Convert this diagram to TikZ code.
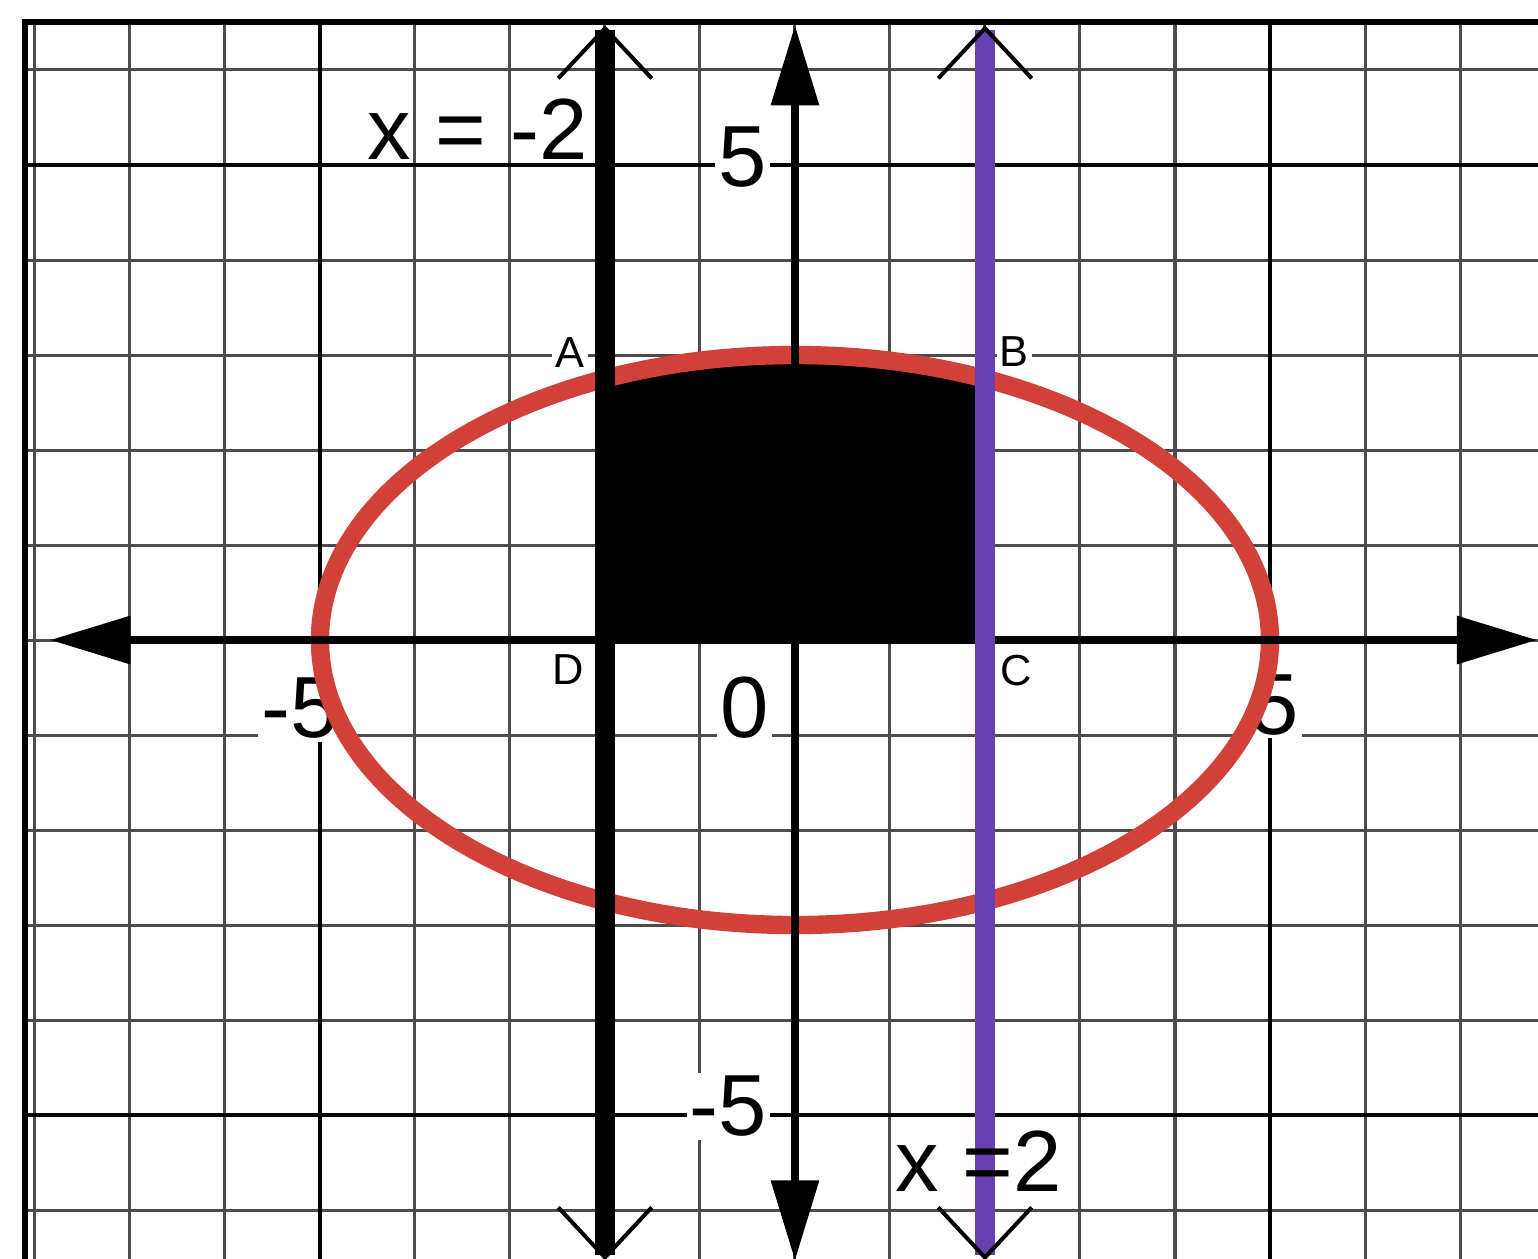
\documentclass[tikz,border=0pt]{standalone}
\usepackage{fontspec}
\setmainfont{Liberation Sans}
\usetikzlibrary{positioning,arrows.meta}

\definecolor{ellred}{RGB}{210,64,58}
\definecolor{linepurple}{RGB}{104,64,178}

\begin{document}
\begin{tikzpicture}[
    gridline/.style  ={black!70,line width=0.9pt},
    gridmajor/.style ={black,line width=1.3pt},
    outerframe/.style={black,line width=1.6pt},
    axisline/.style  ={black,line width=2.2pt,
                       arrows={Triangle[length=24pt,width=14pt]-Triangle[length=24pt,width=14pt]}},
    vline/.style     ={line width=6pt,
                       arrows={Straight Barb[length=15pt,width=28pt,line width=1.2pt,color=black]-Straight Barb[length=15pt,width=28pt,line width=1.2pt,color=black]}},
    ellcurve/.style  ={ellred,line width=5.5pt},
    numlbl/.style    ={fill=white,inner sep=1pt,font=\fontsize{26}{28}\selectfont},
    eqlbl/.style     ={inner sep=0pt,font=\fontsize{26}{28}\selectfont},
    ptlbl/.style     ={fill=white,inner sep=1pt,font=\fontsize{13}{15}\selectfont}
]

\useasboundingbox (-8.368,-6.505) rectangle (7.821,6.737);
\clip (-8.368,-6.505) rectangle (7.821,6.737);

% graph paper
\foreach \gx in {-8,...,7} \draw[gridline] (\gx,-7) -- (\gx,6.505);
\foreach \gy in {-6,...,6} \draw[gridline] (-8.105,\gy) -- (9,\gy);
\foreach \gm in {-5,5} {
    \draw[gridmajor] (\gm,-7) -- (\gm,6.505);
    \draw[gridmajor] (-8.105,\gm) -- (9,\gm);
}
\draw[outerframe] (-8.105,-7) rectangle (8.5,6.505);

\node[numlbl] (ytop)   at (-0.55,5.08)  {5};
\node[numlbl] (ybot)   at (-0.70,-4.91) {-5};
\node[numlbl] (orig)   at (-0.53,-0.71) {0};
\node[numlbl] (xleft)  at (-5.21,-0.72) {-5};
\node[numlbl] (xright) at (5.05,-0.68)  {5};

\coordinate (D) at (-2,0);
\coordinate (C) at (2,0);
\coordinate (A) at (-2,2.7495);
\coordinate (B) at (2,2.7495);

% region between the lines, under the ellipse
\fill[black] (D) -- (A) arc[start angle=113.578,end angle=66.422,x radius=5,y radius=3] -- (C) -- cycle;
\draw[ellcurve] (0,0) ellipse[x radius=5,y radius=3];

\coordinate (xw) at (-7.84,0);
\coordinate (xe) at (7.81,0);
\coordinate (yn) at (0,6.47);
\coordinate (ys) at (0,-6.53);
\draw[axisline] (xw) -- (xe);
\draw[axisline] (ys) -- (yn);

\coordinate (ln) at (-2,6.47);
\coordinate (ls) at (-2,-6.53);
\coordinate (rn) at (2,6.47);
\coordinate (rs) at (2,-6.53);
\draw[vline,black]      (ls) -- (ln);
\draw[vline,linepurple] (rs) -- (rn);

\node[eqlbl] (eqleft)  at (-3.34,5.38) {x = -2};
\node[eqlbl] (eqright) at (1.93,-5.49) {x =2};

\node[ptlbl] (labA) at (-2.37,3.03)  {A};
\node[ptlbl] (labB) at (2.31,3.04)   {B};
\node[ptlbl] (labC) at (2.33,-0.32)  {C};
\node[ptlbl] (labD) at (-2.39,-0.31) {D};

\end{tikzpicture}
\end{document}
